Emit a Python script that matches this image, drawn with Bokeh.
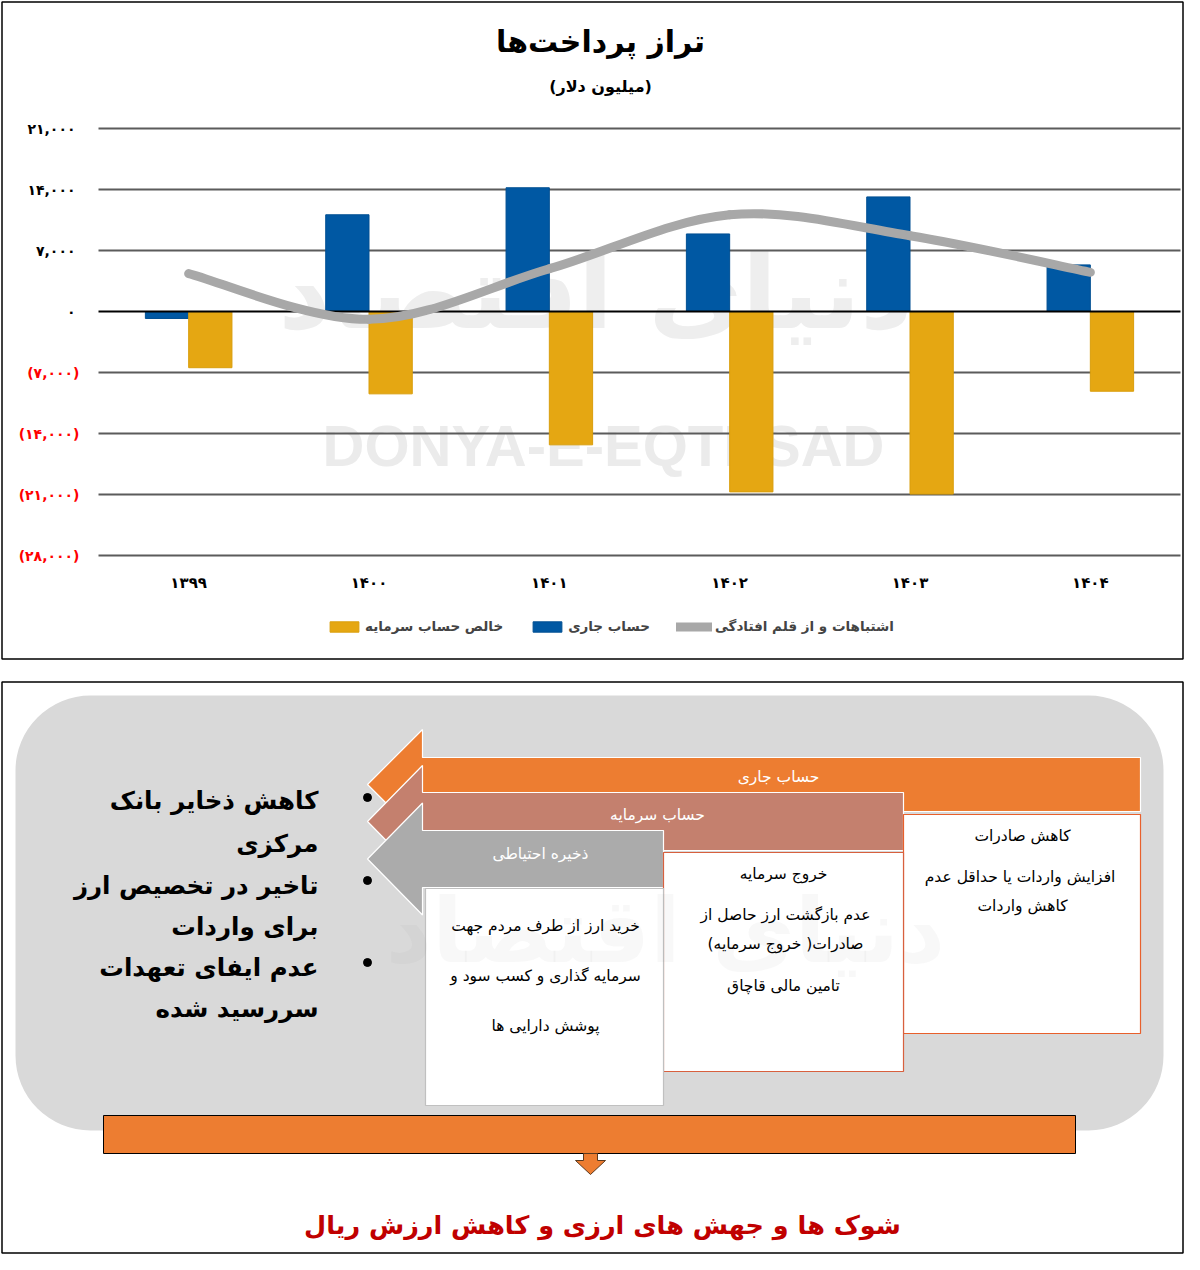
import numpy as np
from bokeh.plotting import figure
from bokeh.models import Range1d, Legend, LegendItem
from bokeh.core.properties import value
from bokeh.embed import file_html
from bokeh.resources import INLINE

# ---------------- data ----------------
years = ["۱۳۹۹", "۱۴۰۰", "۱۴۰۱", "۱۴۰۲", "۱۴۰۳", "۱۴۰۴"]
current_account = [-800, 11100, 14200, 8900, 13150, 5350]          # حساب جاری
capital_account = [-6450, -9450, -15300, -20700, -20950, -9150]    # خالص حساب سرمایه
errors_omissions = [4350, -900, 4900, 11100, 8700, 4500]           # اشتباهات و از قلم افتادگی
y_ticks = [21000, 14000, 7000, 0, -7000, -14000, -21000, -28000]
y_tick_labels = ["۲۱,۰۰۰", "۱۴,۰۰۰", "۷,۰۰۰", "۰", "(۷,۰۰۰)", "(۱۴,۰۰۰)", "(۲۱,۰۰۰)", "(۲۸,۰۰۰)"]
series_names = ["خالص حساب سرمایه", "حساب جاری", "اشتباهات و از قلم افتادگی"]
chart_title = "تراز پرداخت\u200cها"
chart_subtitle = "(میلیون دلار)"

heading_texts = ["حساب جاری", "حساب سرمایه", "ذخیره احتیاطی"]
box_texts = [
    ["کاهش صادرات", "افزایش واردات  یا حداقل عدم", "کاهش واردات"],
    ["خروج سرمایه", "عدم بازگشت ارز حاصل از", "صادرات( خروج سرمایه)", "تامین مالی قاچاق"],
    ["خرید ارز از طرف مردم جهت", "سرمایه گذاری و کسب سود و", "پوشش دارایی ها"],
]
bullet_lines = ["کاهش ذخایر بانک", "مرکزی", "تاخیر در تخصیص ارز", "برای واردات", "عدم ایفای تعهدات", "سررسید شده"]
conclusion = "شوک ها و جهش های ارزی و کاهش ارزش ریال"

# ---------------- layout (canvas pixel space) ----------------
W_PX, H_PX = 1184, 1254
PLOT_L, PLOT_R = 98, 1180
Y_TOP_PX, Y_BOT_PX = 128, 555

FONT = "DejaVu Sans"
BLUE = "#0058A3"
YELLOW = "#E5A712"
LINE_GRAY = "#A8A8A8"
GRID = "#5B5B5B"
ORANGE = "#ED7D31"
SALMON = "#C4806E"
GRAYA = "#ABABAB"
BG_GRAY = "#D9D9D9"

p = figure(width=W_PX, height=H_PX, output_backend="svg", toolbar_location=None,
           x_range=Range1d(0, W_PX), y_range=Range1d(H_PX, 0),
           x_axis_location=None, y_axis_location=None, min_border=0)
p.outline_line_color = None
p.background_fill_color = "white"
p.border_fill_color = "white"
p.grid.visible = False

n = len(years)
unit = (PLOT_R - PLOT_L) / n
ymax, ymin = y_ticks[0], y_ticks[-1]
per_px = (ymax - ymin) / (Y_BOT_PX - Y_TOP_PX)
p.extra_x_ranges = {"cat": Range1d(-PLOT_L / unit, (W_PX - PLOT_L) / unit)}
p.extra_y_ranges = {"val": Range1d(ymax - (H_PX - Y_TOP_PX) * per_px, ymax + Y_TOP_PX * per_px)}
C = dict(x_range_name="cat", y_range_name="val")


def txt(x, y, s, size, color="black", bold=False, align="center", xr="default", yr="default",
        font=FONT, alpha=1.0):
    p.text(x=[x], y=[y], text=[s], text_font=value(font), text_font_size=f"{size}px",
           text_font_style="bold" if bold else "normal", text_color=color, text_alpha=alpha,
           text_align=align, text_baseline="middle",
           x_range_name=xr, y_range_name=yr)


# panel borders
p.quad(left=[1.5, 1.5], right=[W_PX - 1.5, W_PX - 1.5], top=[1.5, 681.5], bottom=[658.5, H_PX - 1.5],
       fill_color=None, line_color="black", line_width=1.5)

# watermarks (top)
txt(595, 292, "دنیای اقتصاد", 102, color="#eeeeee", bold=True)
txt(603, 445, "DONYA-E-EQTESAD", 58, color="#ebebeb", bold=True, font="Liberation Sans")

# gridlines
grid_vals = [t for t in y_ticks if t != 0]
p.segment(x0=[0] * len(grid_vals), x1=[n] * len(grid_vals), y0=grid_vals, y1=grid_vals,
          line_color=GRID, line_width=2, **C)

# bars
xc = np.arange(n) + 0.5
bw = 0.24
r_blue = p.vbar(x=xc - bw / 2, width=bw, top=current_account, bottom=0,
                fill_color=BLUE, line_color="#004F92", line_width=1, **C)
r_yel = p.vbar(x=xc + bw / 2, width=bw, top=capital_account, bottom=0,
               fill_color=YELLOW, line_color="#D99E0C", line_width=1, **C)

# zero line
p.segment(x0=[0], x1=[n], y0=[0], y1=[0], line_color="black", line_width=2, **C)

# smoothed line (Catmull-Rom -> cubic Bezier through the data points)
P = np.column_stack([xc, np.array(errors_omissions, dtype=float)])
x0s, y0s, x1s, y1s, cx0, cy0, cx1, cy1 = ([] for _ in range(8))
for i in range(n - 1):
    pm = P[i - 1] if i > 0 else P[i]
    p1, p2 = P[i], P[i + 1]
    p3 = P[i + 2] if i + 2 < n else P[i + 1]
    c0 = p1 + (p2 - pm) / 6.0
    c1 = p2 - (p3 - p1) / 6.0
    x0s.append(p1[0]); y0s.append(p1[1]); x1s.append(p2[0]); y1s.append(p2[1])
    cx0.append(c0[0]); cy0.append(c0[1]); cx1.append(c1[0]); cy1.append(c1[1])
p.bezier(x0=x0s, y0=y0s, x1=x1s, y1=y1s, cx0=cx0, cy0=cy0, cx1=cx1, cy1=cy1,
         line_color=LINE_GRAY, line_width=9, line_cap="round", **C)
# legend proxy for the smoothed series (a single undrawn point)
r_line = p.line(x=[np.nan], y=[np.nan], line_color=LINE_GRAY, line_width=9, line_cap="round", **C)

# y tick labels
for t, lab in zip(y_ticks, y_tick_labels):
    neg = t < 0
    p.text(x=[79 if neg else 75], y=[t], text=[lab], text_font=value(FONT), text_font_size="14px",
           text_font_style="bold", text_color="#FF0000" if neg else "black",
           text_align="right", text_baseline="middle", x_range_name="default", y_range_name="val")

# x category labels
p.text(x=list(xc), y=[582] * n, text=years, text_font=value(FONT), text_font_size="15px",
       text_font_style="bold", text_color="black", text_align="center", text_baseline="middle",
       x_range_name="cat", y_range_name="default")

# titles
txt(600, 41, chart_title, 30, bold=True)
txt(600, 86, chart_subtitle, 16, bold=True)

legend = Legend(items=[LegendItem(label=series_names[0], renderers=[r_yel]),
                       LegendItem(label=series_names[1], renderers=[r_blue]),
                       LegendItem(label=series_names[2], renderers=[r_line])],
                orientation="horizontal", location=(326, H_PX - 634), padding=0, margin=0,
                spacing=26, label_standoff=3, glyph_width=36, glyph_height=13, label_height=14,
                border_line_color=None, background_fill_alpha=0,
                label_text_font=FONT, label_text_font_style="bold", label_text_font_size="13.5px")
p.add_layout(legend)

# ---------------- lower diagram ----------------
p.quad(left=[15], right=[1163], top=[695], bottom=[1130], border_radius=75,
       fill_color=BG_GRAY, line_color=None)

arrows = [
    # (body_left, body_right, body_top, body_bottom, tip_x, head_half, color)
    (422, 1140, 757, 811, 367, 55, ORANGE),
    (422, 903, 792, 850, 367, 56, SALMON),
    (422, 663, 830, 887, 367, 56, GRAYA),
]
for bl, br, bt, bb, tx, hh, col in arrows:
    cy = (bt + bb) / 2
    xs = [br, br, bl, bl, tx, bl, bl]
    ys = [bt, bb, bb, cy + hh, cy, cy - hh, bt]
    p.patch(x=xs, y=ys, fill_color=col, line_color="white", line_width=1.2)

boxes = [
    (903, 1140, 814, 1033, "#E8602C"),
    (663, 903, 852, 1071, "#D8603E"),
    (425, 663, 888, 1105, "#C0C0C0"),
]
for l, r, t, b, lc in boxes:
    p.quad(left=[l], right=[r], top=[t], bottom=[b], fill_color="white", line_color=lc, line_width=1.2)

# faint watermark across the diagram
txt(665, 930, "دنیای اقتصاد", 90, color="#808080", bold=True, alpha=0.06)

heading_pos = [(778, 776), (657, 814), (540, 853)]
for (hx, hy), s in zip(heading_pos, heading_texts):
    txt(hx, hy, s, 15.5, color="white")

box_line_pos = [
    [(1022, 835), (1022, 876), (1022, 905)],
    [(783, 873), (785, 914), (785, 943), (783, 985)],
    [(545, 925), (545, 975), (545, 1025)],
]
for lines, poss in zip(box_texts, box_line_pos):
    for s, (bx, by) in zip(lines, poss):
        txt(bx, by, s, 15.5)

# bullets
p.scatter(x=[367, 367, 367], y=[797, 880, 962], size=8, color="black")
bullet_y = [800, 843, 885, 926, 967, 1008]
for s, by in zip(bullet_lines, bullet_y):
    txt(318, by, s, 24.5, bold=True, align="right")

# bottom orange bar and down arrow
p.quad(left=[103], right=[1075], top=[1115], bottom=[1153], fill_color=ORANGE, line_color="black", line_width=1)
p.patch(x=[583, 597, 597, 605, 590, 575, 583], y=[1153, 1153, 1160, 1160, 1174, 1160, 1160],
        fill_color=ORANGE, line_color="#5a3a20", line_width=1)

txt(602, 1224, conclusion, 25.5, color="#C00000", bold=True)

open("out.html", "w").write(file_html(p, INLINE))
